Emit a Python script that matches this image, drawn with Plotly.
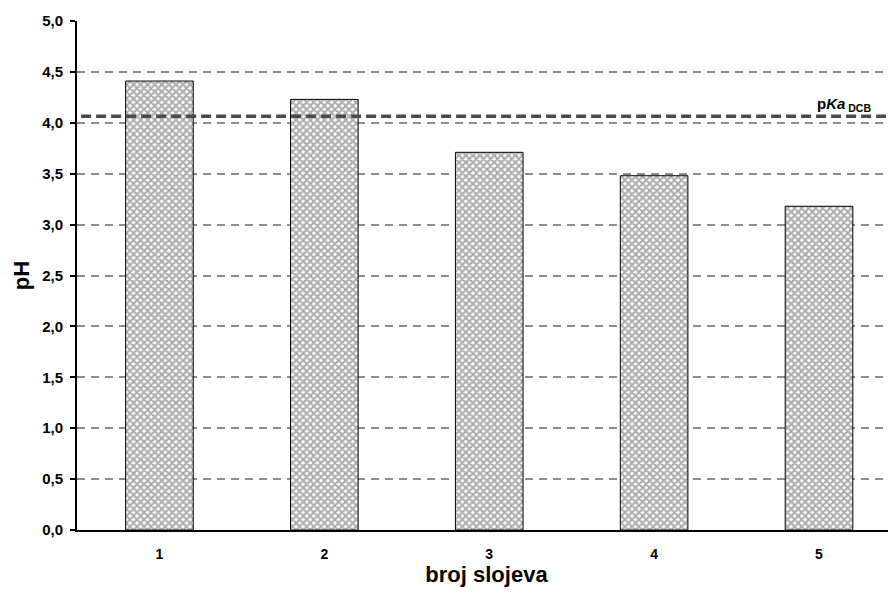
import plotly.graph_objects as go

categories = ["1", "2", "3", "4", "5"]
ph_values = [4.41, 4.23, 3.71, 3.48, 3.18]
pka_dcb = 4.065
y_ticks = [0.0, 0.5, 1.0, 1.5, 2.0, 2.5, 3.0, 3.5, 4.0, 4.5, 5.0]

FONT = "Arial, Liberation Sans, sans-serif"

fig = go.Figure()
fig.add_trace(go.Bar(
    x=categories, y=ph_values, width=0.41,
    marker=dict(
        color="white",
        line=dict(color="black", width=1),
        pattern=dict(shape="x", fgcolor="#5c5c5c", bgcolor="#ffffff", size=5, solidity=0.65),
    ),
    showlegend=False,
))

fig.add_shape(type="line", xref="paper", x0=0.005, x1=1, yref="y", y0=pka_dcb, y1=pka_dcb,
              line=dict(color="#4a4a4a", width=3.5, dash="10px,5px"), layer="above")
fig.add_annotation(xref="paper", x=(815 - 77) / (896 - 77), yref="y", y=pka_dcb,
                   text="p<i>Ka</i><sub> DCB</sub>", showarrow=False,
                   xanchor="left", yanchor="bottom", yshift=0,
                   font=dict(family=FONT, size=15, color="black", weight="bold"))

fig.update_layout(
    width=888, height=587,
    margin=dict(l=69, r=0, t=13, b=65),
    plot_bgcolor="white", paper_bgcolor="white",
    separators=", ",
    font=dict(family=FONT, color="black"),
    xaxis=dict(
        type="category", range=[-0.5, 4.467],
        showline=True, linecolor="black", linewidth=2,
        showgrid=False, ticks="",
        tickfont=dict(size=14, family=FONT, weight="bold"),
        ticklabelstandoff=10,
        title=dict(text="broj slojeva", font=dict(size=22, family=FONT, weight="bold"), standoff=6),
    ),
    yaxis=dict(
        range=[0, 5], tickvals=y_ticks, tickformat=".1f",
        showline=True, linecolor="black", linewidth=2,
        ticks="outside", ticklen=5, tickwidth=2, tickcolor="black",
        showgrid=True, gridcolor="#8c8c8c", gridwidth=1.5, griddash="8px,6px",
        zeroline=False,
        tickfont=dict(size=15, family=FONT, weight="bold"),
        ticklabelstandoff=4,
        title=dict(text="pH", font=dict(size=22, family=FONT, weight="bold"), standoff=6),
    ),
)

fig.write_html("out.html")
